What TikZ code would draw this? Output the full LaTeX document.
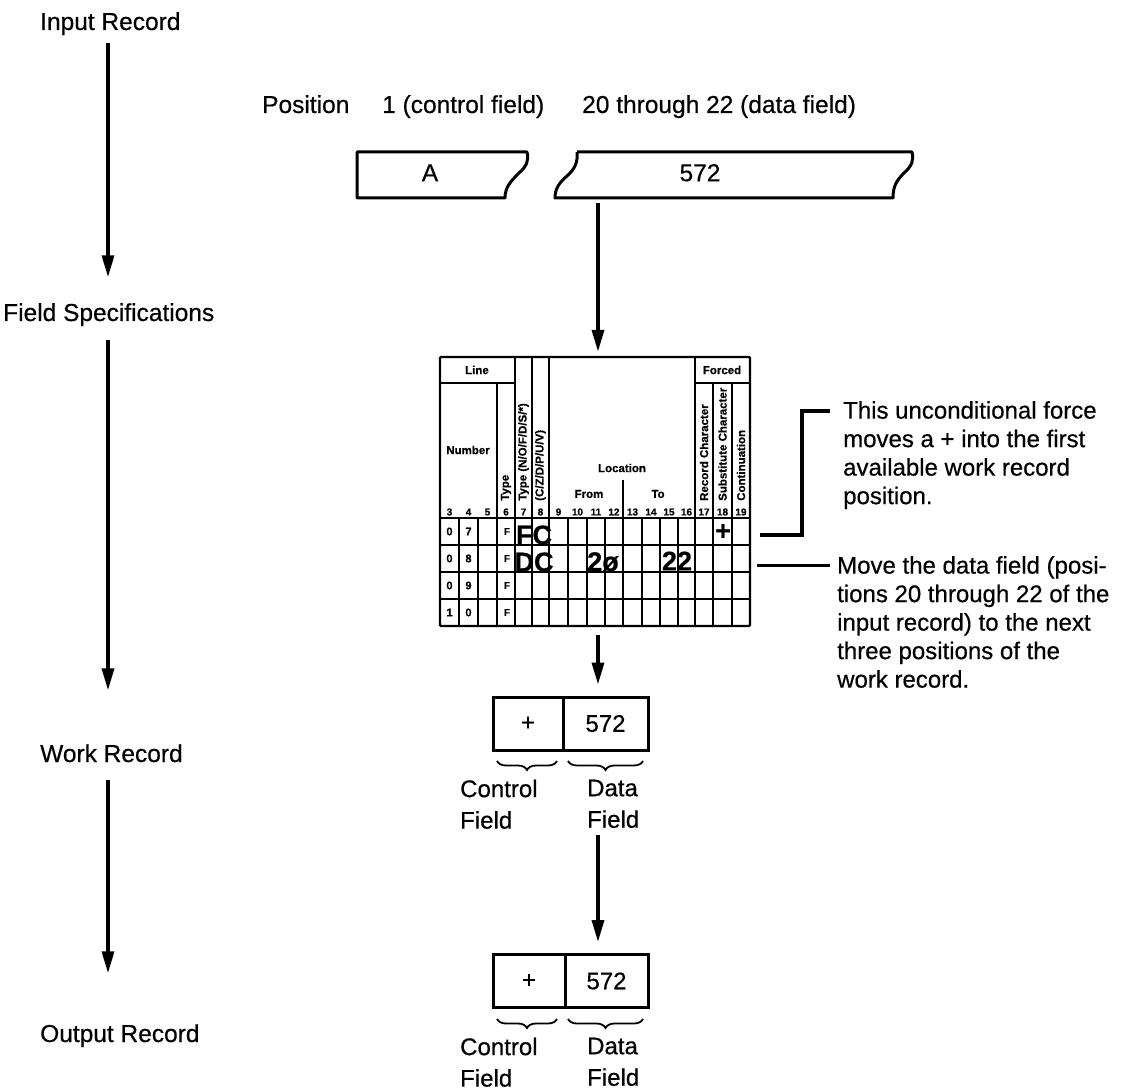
\documentclass[tikz,border=0pt]{standalone}
\usepackage{fontspec}
\setmainfont{Liberation Sans}[FakeBold=0.5]
\usetikzlibrary{arrows.meta,decorations.pathreplacing,calc}
\begin{document}
\begin{tikzpicture}[x=1pt,y=-1pt,
  lbl/.style={font=\fontsize{24.5}{28.5}\selectfont, inner sep=0pt, text height=17.5pt, text depth=5pt},
  note/.style={font=\fontsize{24}{28.5}\selectfont, inner sep=0pt, align=left, anchor=north west},
  fld/.style={font=\fontsize{24}{31.5}\selectfont, inner sep=0pt, align=left, anchor=north west},
  arr/.style={line width=3.5pt, -{Triangle[width=12pt,length=22pt]}},
  tornbox/.style={line width=3pt, line join=round},
  recbox/.style={draw, line width=3pt, minimum height=53pt, inner sep=0pt, font=\fontsize{24}{28}\selectfont},
  hdr/.style={font=\fontsize{11.5}{12}\selectfont\bfseries, inner sep=0pt},
  vt/.style={font=\fontsize{11.5}{12}\selectfont\bfseries, rotate=90, anchor=west, inner sep=0pt},
  num/.style={font=\fontsize{10}{10}\selectfont\bfseries, inner sep=0pt},
  rnum/.style={font=\fontsize{11}{11}\selectfont\bfseries, inner sep=0pt},
  hw/.style={font=\fontsize{27}{27}\selectfont\bfseries, inner sep=0pt},
  gline/.style={line width=1.6pt},
  goutline/.style={line width=2.2pt},
  brc/.style={line width=1.8pt, decorate, decoration={brace, amplitude=9pt}},
  lead/.style={line width=3.5pt}
]
\useasboundingbox (0,0) rectangle (1136,1091);

% ---- left column labels ----
\node[lbl, anchor=base west] (inrec) at (40,30) {Input Record};
\node[lbl, anchor=base west] (fspec) at (3,321) {Field Specifications};
\node[lbl, anchor=base west] (wrec)  at (40,762) {Work Record};
\node[lbl, anchor=base west] (orec)  at (40,1042) {Output Record};
\coordinate (lx) at (108,0);
\draw[arr, shorten <=8pt, shorten >=26pt] (inrec.south -| lx) -- (fspec.north -| lx);
\draw[arr, shorten <=14pt, shorten >=54pt] (fspec.south -| lx) -- (wrec.north -| lx);
\draw[arr, shorten <=13pt, shorten >=51pt] (wrec.south -| lx) -- (orec.north -| lx);

% ---- position labels ----
\node[lbl, anchor=base west] (pos)  at (262,113) {Position};
\node[lbl, anchor=base west] (pos1) at (382,113) {1 (control field)};
\node[lbl, anchor=base west] (pos2) at (582,113) {20 through 22 (data field)};

% ---- input record fields ----
\node[inner sep=0pt, minimum width=170pt, minimum height=46pt] (boxA) at (442,175) {};
\node[inner sep=0pt, minimum width=358pt, minimum height=46pt] (boxD) at (734,175) {};
\node[lbl] (tA) at (430,175) {A};
\node[lbl] (tD) at (700,175) {572};
\draw[tornbox] (357,152) -- (527,152)
  .. controls (529,160) and (527,166) .. (519,173)
  .. controls (511,181) and (505,187) .. (505,198)
  -- (357,198) -- cycle;
\draw[tornbox] (577,152) -- (912,152)
  .. controls (914,160) and (912,166) .. (904,173)
  .. controls (896,181) and (893,187) .. (893,198)
  -- (555,198)
  .. controls (555,188) and (560,182) .. (567,176)
  .. controls (575,169) and (578,162) .. (577,152);

% ---- specification form ----
\node[inner sep=0pt, minimum width=310pt, minimum height=269pt] (form) at (595,491.5) {};
\coordinate (ax) at (598,0);
\draw[arr, shorten <=5pt, shorten >=5pt] (boxD.south -| ax) -- (form.north -| ax);

% horizontal lines
\draw[gline] (440,383) -- (515,383);
\draw[gline] (695,383) -- (750,383);
\foreach \yy in {518,545,572,599} \draw[gline] (440,\yy) -- (750,\yy);
% full-height verticals
\foreach \xx in {515,532,549,695} \draw[gline] (\xx,357) -- (\xx,626);
\foreach \xx in {497,713,732} \draw[gline] (\xx,383) -- (\xx,626);
\draw[gline] (623,480) -- (623,626);
\foreach \xx in {459,478,568,587,605,642,660,678} \draw[gline] (\xx,518) -- (\xx,626);
\draw[goutline, rounded corners=1pt] (440,357) rectangle (750,626);

% header texts
\node[hdr] (hLine) at (477,370) {Line};
\node[hdr] (hForced) at (722,370) {Forced};
\node[hdr] (hNum) at (468,450) {Number};
\node[hdr] (hLoc) at (622,468) {Location};
\node[hdr] (hFrom) at (589,494) {From};
\node[hdr] (hTo) at (658,494) {To};
\node[vt] (v6) at (506,501) {Type};
\node[vt] (v7) at (523.5,501) {Type (N/O/F/D/S/*)};
\node[vt] (v8) at (540.5,501) {(C/Z/D/P/U/V)};
\node[vt] (v17) at (704,501) {Record Character};
\node[vt] (v18) at (722.5,501) {Substitute Character};
\node[vt] (v19) at (741,501) {Continuation};
% column numbers
\foreach \n/\cxx in {3/449.5,4/468.5,5/487.5,6/506,7/523.5,8/540.5,9/558.5,10/577.5,11/596,12/614,13/632.5,14/651,15/669,16/686.5,17/704,18/722.5,19/741}
  \node[num] (cn\n) at (\cxx,512) {\n};
% row contents
\foreach \r/\a/\b/\yy in {1/0/7/531.5,2/0/8/558.5,3/0/9/585.5,4/1/0/612.5}{
  \node[rnum] (ra\r) at (449.5,\yy) {\a};
  \node[rnum] (rb\r) at (468.5,\yy) {\b};
  \node[num] (rf\r) at (507,\yy) {F};
}
% handwritten entries
\node[hw] (hwFC) at (534,535) {FC};
\node[hw] (hwDC) at (534,562) {DC};
\node[hw] (hw20) at (603,562) {2ø};
\node[hw] (hw22) at (677,561) {22};
\node[hw] (hwP) at (723,532) {+};

% ---- annotations ----
\node[note] (ann1) at (843,401) {This unconditional force\\moves a + into the first\\available work record\\position.};
\node[note] (ann2) at (837,556) {Move the data field (posi-\\tions 20 through 22 of the\\input record) to the next\\three positions of the\\work record.};
\coordinate (l1s) at (760,535);
\coordinate (l1e) at (830,411);
\draw[lead] (l1s) -| ($(l1e)+(-28,0)$) -- (l1e);
\coordinate (l2s) at (757,565);
\coordinate (l2e) at (830,565);
\draw[lead, line width=3pt] (l2s) -- (l2e);

% ---- work record ----
\node[recbox, minimum width=70pt] (wc) at (528,723.5) {+};
\node[recbox, minimum width=85pt] (wd) at (605.5,723.5) {572};
\draw[arr, shorten <=9pt, shorten >=11pt] (form.south -| ax) -- (wd.north -| ax);
\draw[brc] (557,761) -- (497,761);
\draw[brc] (643,761) -- (568,761);
\node[fld] (wcf) at (460,779.5) {Control\\Field};
\node[fld] (wdf) at (587,779.5) {Data\\Field};

% ---- output record ----
\node[recbox, minimum width=72pt] (oc) at (529,981) {+};
\node[recbox, minimum width=83pt] (od) at (606.5,981) {572};
\draw[arr, shorten <=7pt, shorten >=11pt] (wdf.south -| ax) -- (od.north -| ax);
\draw[brc] (557,1019) -- (497,1019);
\draw[brc] (643,1019) -- (568,1019);
\node[fld] (ocf) at (460,1037.5) {Control\\Field};
\node[fld] (odf) at (587,1037.5) {Data\\Field};
\end{tikzpicture}
\end{document}
